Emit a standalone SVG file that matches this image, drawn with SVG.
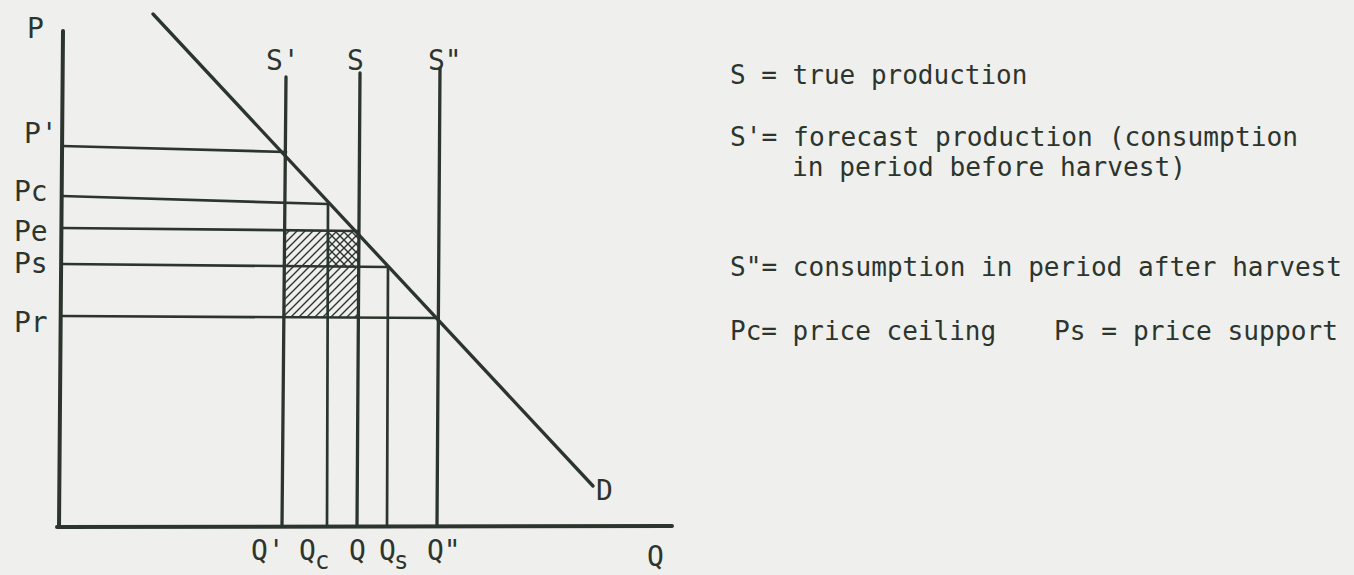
<svg xmlns="http://www.w3.org/2000/svg" width="1354" height="575" viewBox="0 0 1354 575">
  <style>
    .ink { stroke: #2c352d; fill: none; stroke-linecap: round; }
    .axis { stroke-width: 4; }
    .sup { stroke-width: 3.3; }
    .thin { stroke-width: 2.7; }
    .lbl { font-family: "DejaVu Sans Mono", "Liberation Mono", monospace; font-size: 28px; fill: #2c352d; }
    .sub { font-family: "DejaVu Sans Mono", "Liberation Mono", monospace; font-size: 24px; fill: #2c352d; }
    .leg { font-family: "DejaVu Sans Mono", "Liberation Mono", monospace; font-size: 26px; fill: #2c352d; }
  </style>
  <defs>
    <pattern id="hatchF" patternUnits="userSpaceOnUse" width="8" height="8">
      <path d="M-2,2 L2,-2 M0,8 L8,0 M6,10 L10,6" stroke="#2c352d" stroke-width="1.4"/>
    </pattern>
    <pattern id="hatchB" patternUnits="userSpaceOnUse" width="8" height="8">
      <path d="M-2,6 L2,10 M0,0 L8,8 M6,-2 L10,2" stroke="#2c352d" stroke-width="1.4"/>
    </pattern>
  </defs>
  <rect width="1354" height="575" fill="#efefed"/>

  <g id="hatching">
    <rect x="285" y="230" width="73" height="87" fill="url(#hatchF)"/>
    <rect x="328" y="230" width="30" height="36" fill="url(#hatchB)"/>
  </g>

  <g id="connectors" class="ink">
    <line id="y-axis" class="axis" x1="63" y1="31" x2="59" y2="527"/>
    <line id="x-axis" class="axis" x1="57" y1="527" x2="672" y2="526"/>
    <line id="demand" class="sup" x1="153" y1="14" x2="593" y2="486"/>
    <line id="s-prime" class="sup" x1="286" y1="77" x2="282" y2="526"/>
    <line id="s-true" class="sup" x1="360" y1="73" x2="357" y2="526"/>
    <line id="s-dprime" class="sup" x1="440" y1="68" x2="437" y2="526"/>
    <line id="q-c" class="thin" x1="328" y1="204" x2="327" y2="526"/>
    <line id="q-s" class="thin" x1="388" y1="267" x2="387" y2="526"/>
    <line id="p-prime" class="thin" x1="62" y1="146" x2="286" y2="152"/>
    <line id="p-c" class="thin" x1="62" y1="196" x2="328" y2="204"/>
    <line id="p-e" class="thin" x1="62" y1="228" x2="358" y2="231"/>
    <line id="p-s" class="thin" x1="62" y1="264" x2="388" y2="267"/>
    <line id="p-r" class="thin" x1="62" y1="316" x2="438" y2="318"/>
  </g>

  <g id="axis-labels">
    <text class="lbl" x="27" y="38">P</text>
    <text class="lbl" x="24" y="143">P'</text>
    <text class="lbl" x="14" y="201">Pc</text>
    <text class="lbl" x="14" y="241">Pe</text>
    <text class="lbl" x="14" y="273">Ps</text>
    <text class="lbl" x="14" y="332">Pr</text>
    <text class="lbl" x="266" y="70">S'</text>
    <text class="lbl" x="347" y="70">S</text>
    <text class="lbl" x="428" y="70">S"</text>
    <text class="lbl" x="596" y="500">D</text>
    <text class="lbl" x="251" y="560">Q'</text>
    <text class="lbl" x="299" y="560">Q</text>
    <text class="sub" x="315" y="569">c</text>
    <text class="lbl" x="349" y="560">Q</text>
    <text class="lbl" x="379" y="560">Q</text>
    <text class="sub" x="394" y="569">s</text>
    <text class="lbl" x="427" y="560">Q"</text>
    <text class="lbl" x="647" y="566">Q</text>
  </g>

  <g id="legend">
    <text class="leg" x="730" y="84">S = true production</text>
    <text class="leg" x="730" y="146" textLength="568" lengthAdjust="spacingAndGlyphs">S'= forecast production (consumption</text>
    <text class="leg" x="792" y="176" textLength="394" lengthAdjust="spacingAndGlyphs">in period before harvest)</text>
    <text class="leg" x="730" y="276" textLength="612" lengthAdjust="spacingAndGlyphs">S"= consumption in period after harvest</text>
    <text class="leg" x="730" y="340">Pc= price ceiling</text>
    <text class="leg" x="1054" y="340" textLength="284" lengthAdjust="spacingAndGlyphs">Ps = price support</text>
  </g>
</svg>
